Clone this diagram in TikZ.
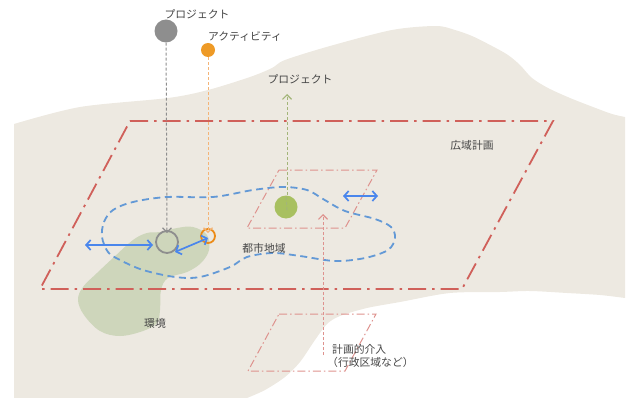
\documentclass[tikz,border=0pt]{standalone}
\usepackage{fontspec}
\newfontfamily\jp{Noto Sans CJK JP}
\usetikzlibrary{arrows.meta}
\definecolor{bgland}{HTML}{EDE9E1}
\definecolor{envgreen}{HTML}{CED6BB}
\definecolor{bigred}{HTML}{D0605A}
\definecolor{lightred}{HTML}{DE928E}
\definecolor{urbanblue}{HTML}{6399D6}
\definecolor{arrowblue}{HTML}{4A86EC}
\definecolor{projgrey}{HTML}{8E8E8E}
\definecolor{actorange}{HTML}{EE9A26}
\definecolor{ringorange}{HTML}{EC8B17}
\definecolor{lightorange}{HTML}{F4B477}
\definecolor{projgreen}{HTML}{A8C060}
\definecolor{dashgreen}{HTML}{A3B578}
\definecolor{txt}{HTML}{454545}
\begin{document}
\begin{tikzpicture}[x=1pt,y=-1pt,
  lbl/.style={font=\jp\fontsize{10.8}{12}\selectfont, text=txt, inner sep=0pt},
  bigplan/.style={draw=bigred, line width=1.8pt, dash pattern=on 18pt off 6pt on 2.5pt off 6pt},
  smallplan/.style={draw=lightred, line width=1pt, dash pattern=on 8pt off 3pt on 1.5pt off 3pt},
  urban/.style={draw=urbanblue, line width=1.8pt, dash pattern=on 7pt off 4.5pt},
  vlink/.style={line width=1pt, dash pattern=on 3pt off 2pt, -{Straight Barb[length=4.5pt,width=9pt,line width=1.2pt]}},
  barrow/.style={draw=arrowblue, line width=1.7pt, {Straight Barb[length=4.5pt,width=10pt]}-{Straight Barb[length=4.5pt,width=10pt]}}
]
\useasboundingbox (0,0) rectangle (628,398);

% land
\fill[bgland] plot[smooth, tension=0.5] coordinates {(14,124) (80,107) (168,98) (208,90) (250,77) (272,68) (285,60) (330,46) (392,30) (436,26) (455,30) (472,36) (492,46) (508,55) (520,65) (532,78) (548,88) (570,98) (593,107) (612,114) (625,117)}
  -- plot[smooth, tension=0.5] coordinates {(625,298) (600,295) (567,293) (530,291) (500,292) (450,293) (400,302) (367,308) (340,316) (327,324) (315,340) (300,362) (285,377) (265,390) (247,398)}
  -- (14,398) -- cycle;

% environment
\fill[envgreen] plot[smooth cycle, tension=0.6] coordinates {(177,228) (193,227) (207,235) (209,250) (201,263) (187,272) (168,278) (161,290) (160,310) (157,323) (143,331) (120,336) (100,331) (84,315) (78,300) (83,287) (97,273) (113,258) (133,240) (147,233) (160,232)};

% regional plan
\draw[bigplan] (130,121) -- (553,121) -- (462,289) -- (40,289) -- cycle;

% small plan areas
\draw[smallplan] (279,170) -- (377,170) -- (345,228) -- (247,228) -- cycle;
\draw[smallplan] (279,314) -- (376,314) -- (345,371) -- (248,371) -- cycle;

% urban area
\draw[urban] plot[smooth cycle, tension=0.55] coordinates {(102,237) (104,222) (113,210) (133,202) (167,197) (213,197) (253,190) (283,187) (307,190) (323,199) (345,211) (375,219) (391,227) (395,238) (388,250) (365,258) (335,261) (300,256) (273,253) (247,257) (230,267) (200,277) (175,277) (143,270) (120,260) (108,252)};

% nodes
\node[circle, fill=projgrey, minimum size=23pt, inner sep=0pt] (pg) at (166,31) {};
\node[circle, fill=actorange, minimum size=14pt, inner sep=0pt] (ao) at (208,50) {};
\node[circle, draw=projgrey, line width=1.8pt, minimum size=22pt, inner sep=0pt] (pgr) at (167,242) {};
\node[circle, draw=ringorange, line width=1.8pt, minimum size=14pt, inner sep=0pt] (aor) at (208,236) {};
\coordinate (gtip) at (287,94);
\coordinate (itip) at (323,214);
\coordinate (ibase) at (323,355);

% vertical links
\draw[vlink, draw=projgrey] (pg) -- ([yshift=-3pt]pgr.north);
\draw[vlink, draw=lightorange] (ao) -- ([yshift=-5pt]aor.north);
\draw[vlink, draw=dashgreen] (287,200) -- (gtip);
\node[circle, fill=projgreen, minimum size=23pt, inner sep=0pt] (gp) at (286,207) {};
\draw[dashgreen, line width=1pt, dash pattern=on 3pt off 2pt] (287,210) -- (gp.north);
\draw[vlink, draw=lightred] (ibase) -- (itip);

% blue arrows
\coordinate (la) at (85,245);
\coordinate (lb) at (153,245);
\coordinate (da) at (175,252);
\coordinate (db) at (208,238);
\coordinate (ra) at (343,196);
\coordinate (rb) at (378,196);
\draw[barrow] (la) -- (lb);
\draw[barrow] (da) -- (db);
\draw[barrow] (ra) -- (rb);

% labels
\node[lbl] (t1) at (197,14) {プロジェクト};
\node[lbl] (t2) at (245,36) {アクティビティ};
\node[lbl] (t3) at (300,79) {プロジェクト};
\node[lbl] (t4) at (472,145) {広域計画};
\node[lbl] (t5) at (264,248) {都市地域};
\node[lbl] (t6) at (155,323) {環境};
\node[lbl, anchor=west] (t7) at (332,349) {計画的介入};
\node[lbl, anchor=west] (t8) at (327,362) {（行政区域など）};
\end{tikzpicture}
\end{document}
